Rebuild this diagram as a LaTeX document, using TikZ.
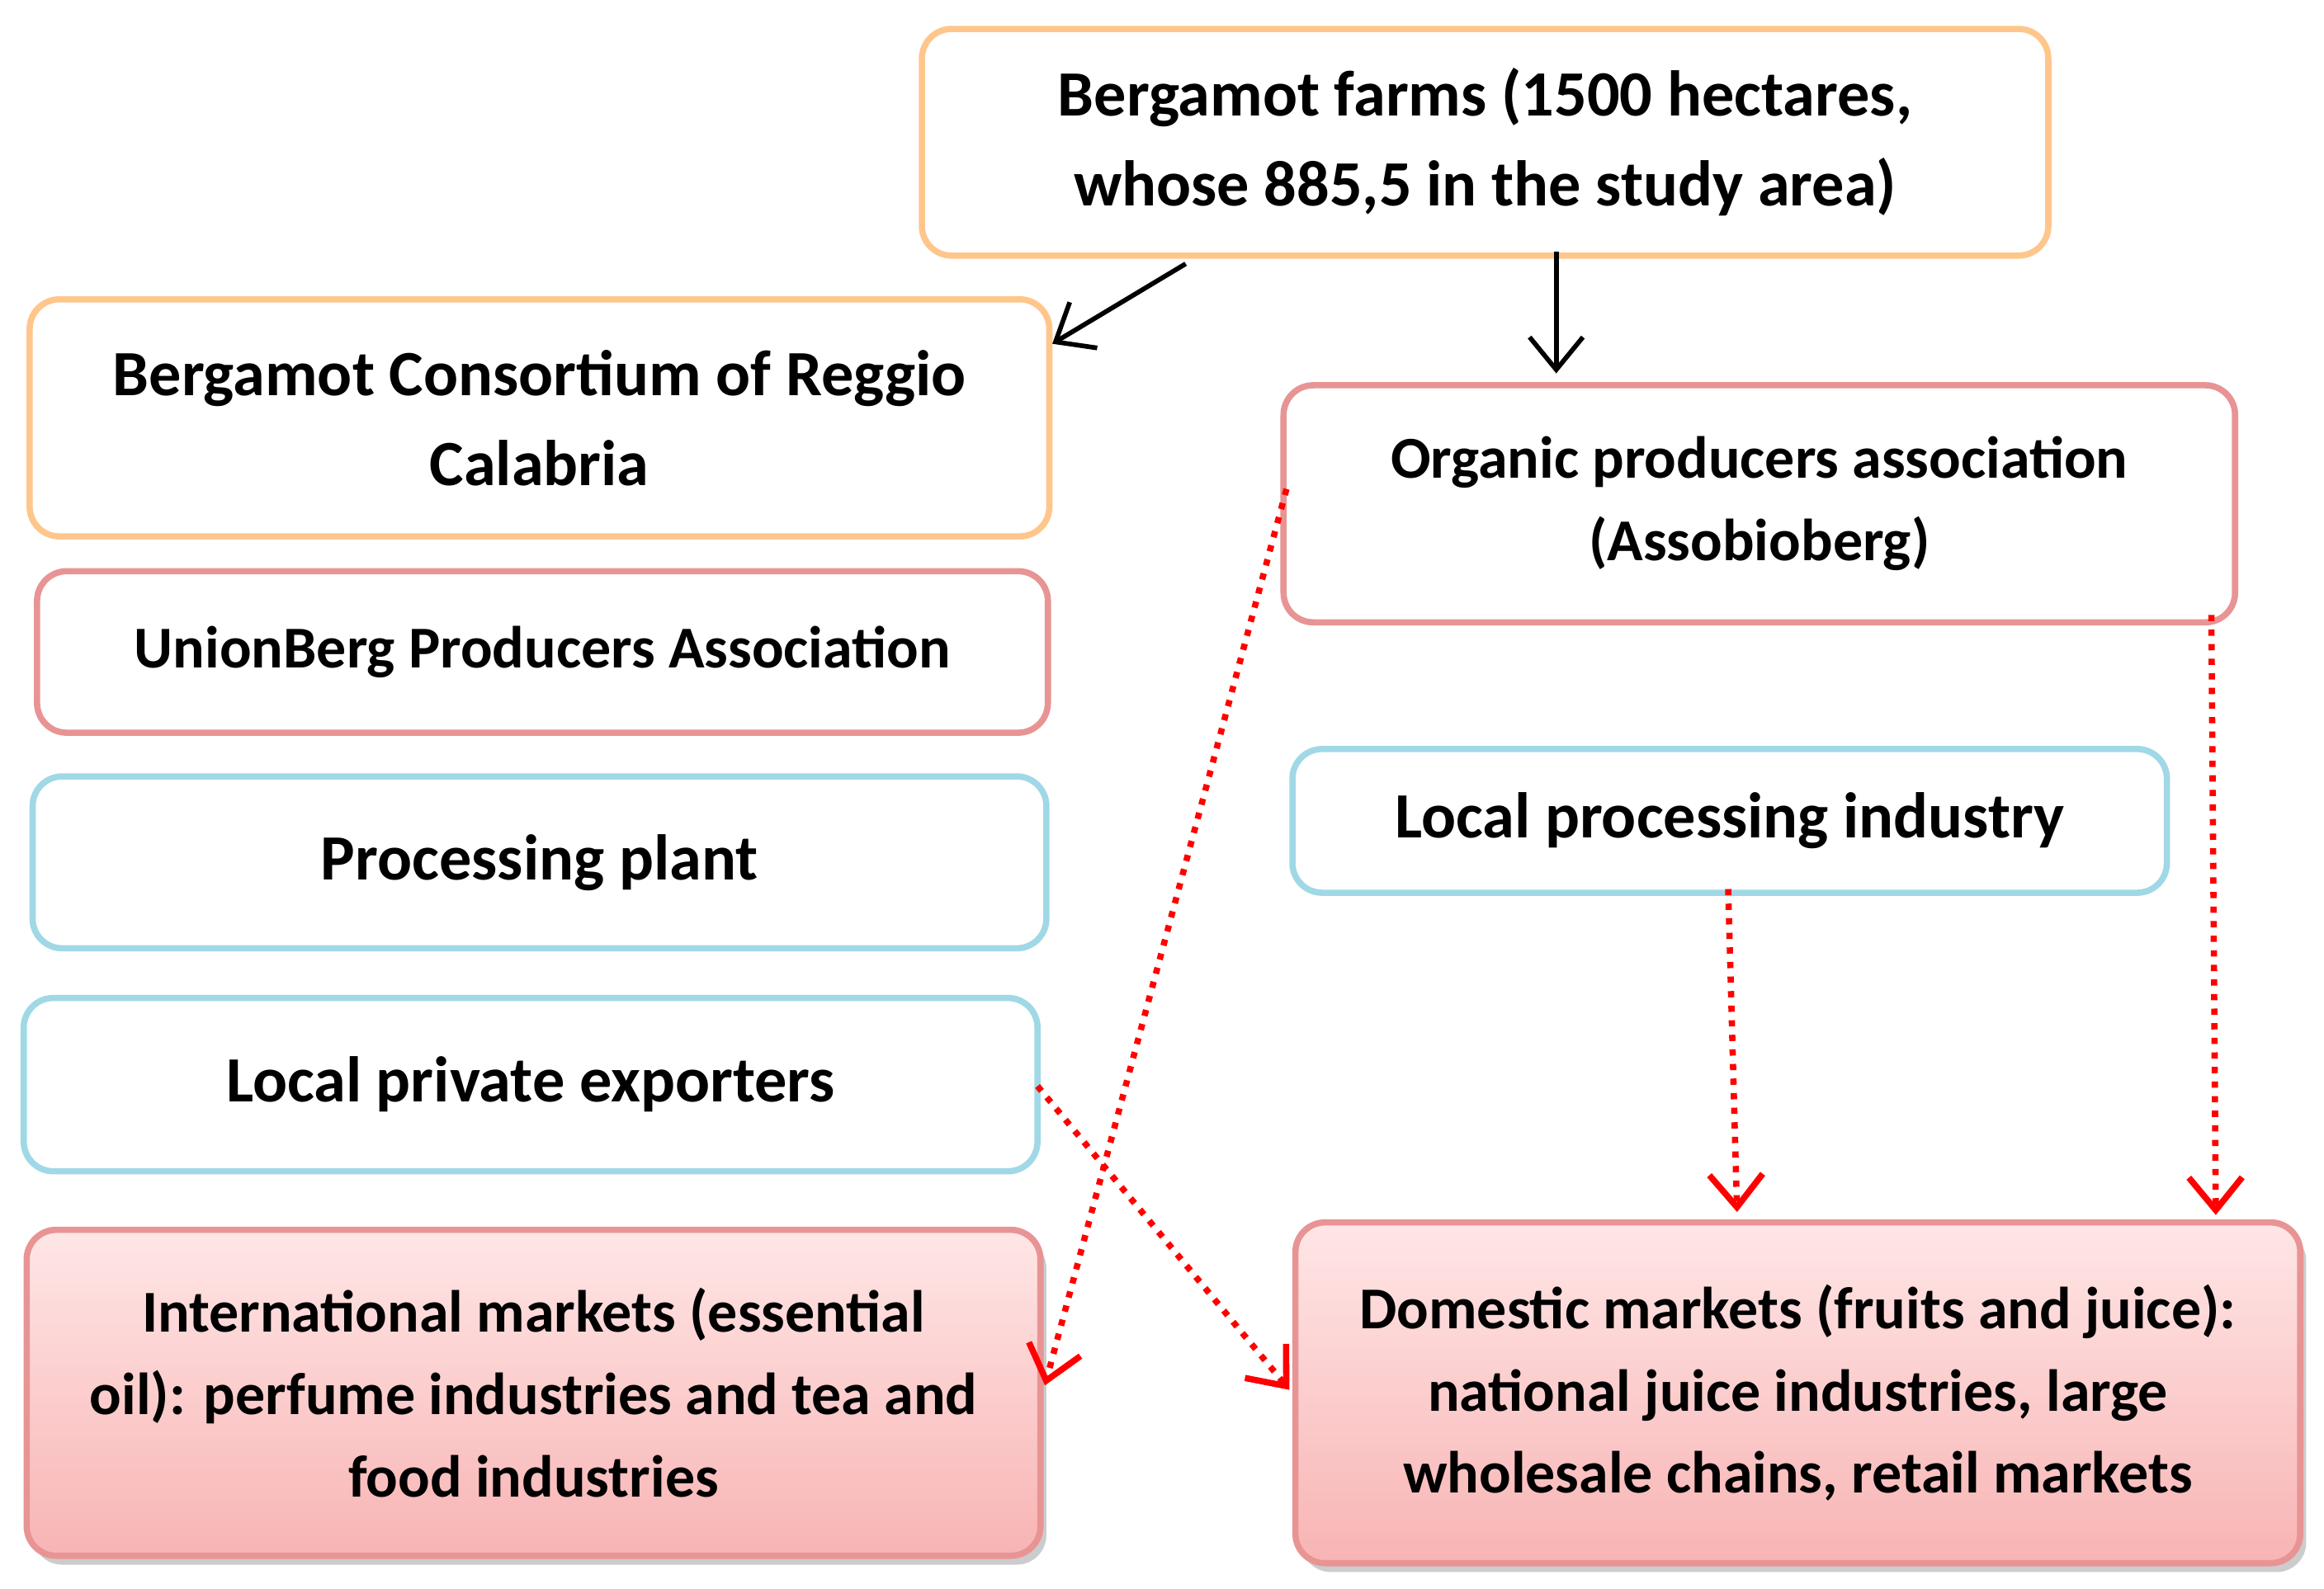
\documentclass[tikz,border=0pt]{standalone}
\usepackage{fontspec}
\setmainfont{Carlito}
\usetikzlibrary{arrows.meta,shadows}
\colorlet{colorOR}{orange!45}
\definecolor{colorPK}{HTML}{E89494}
\definecolor{colorBL}{HTML}{A0D8E6}
\definecolor{colorTOP}{HTML}{FFE6E6}
\definecolor{colorBOT}{HTML}{F8B4B4}
\tikzset{
   every path/.style={>={Straight Barb[length=2.2mm,width=3.6mm]}},
   box/.style={draw,rounded corners=2mm,line width=1.2pt,align=center,
      font=\fontsize{12.4}{17.3}\selectfont\bfseries,inner sep=0pt},
   small/.style={font=\fontsize{11.4}{15.8}\selectfont\bfseries},
   obox/.style={box,draw=colorOR},
   pbox/.style={box,draw=colorPK},
   bbox/.style={box,draw=colorBL},
   mbox/.style={box,small,draw=colorPK,top color=colorTOP,bottom color=colorBOT,
      drop shadow={shadow xshift=0.4mm,shadow yshift=-0.6mm,fill=black!40}},
   flow/.style={->,line width=0.9pt},
   sale/.style={->,red,line width=1.2pt,dash pattern=on 1.2pt off 1.6pt},
}
\begin{document}
\begin{tikzpicture}[x=0.1mm,y=-0.1mm]
   \useasboundingbox (0,0) rectangle (1568,1072);
   \node[obox,minimum width=76mm,minimum height=15.3mm] (farm) at (1002,96) {Bergamot farms (1500 hectares,\\whose 885,5 in the study area)};
   \node[obox,minimum width=68.8mm,minimum height=16mm] (cons) at (364,282) {Bergamot Consortium of Reggio\\Calabria};
   \node[pbox,small,minimum width=68.2mm,minimum height=10.9mm] (union) at (366,440) {UnionBerg Producers Association};
   \node[bbox,minimum width=68.4mm,minimum height=11.6mm] (plant) at (364,582) {Processing plant};
   \node[bbox,minimum width=68.4mm,minimum height=11.7mm] (expo) at (358,732) {Local private exporters};
   \node[mbox,minimum width=68.4mm,minimum height=22mm] (intl) at (360,940) {International markets (essential\\oil): perfume industries and tea and\\food industries};
   \node[pbox,small,minimum width=64.2mm,minimum height=16mm] (orga) at (1187,340) {Organic producers association\\(Assobioberg)};
   \node[bbox,minimum width=59mm,minimum height=9.7mm] (lpi) at (1167,554) {Local processing industry};
   \node[mbox,minimum width=67.8mm,minimum height=23mm] (dome) at (1213,940) {Domestic markets (fruits and juice):\\national juice industries, large\\wholesale chains, retail markets};
   \coordinate (fa) at (800,178);
   \coordinate (ca) at (710,232);
   \coordinate (fb) at (1050,170);
   \coordinate (ob) at (1050,252);
   \coordinate (ol) at (868,330);
   \coordinate (il) at (705,935);
   \coordinate (ex) at (700,733);
   \coordinate (dl) at (870,938);
   \coordinate (lb) at (1166,600);
   \coordinate (dt) at (1172,818);
   \coordinate (or) at (1492,415);
   \coordinate (dr) at (1495,820);
   \draw[flow] (fa) -- (ca);
   \draw[flow] (fb) -- (ob);
   \draw[sale] (ol) -- (il);
   \draw[sale] (ex) -- (dl);
   \draw[sale] (lb) -- (dt);
   \draw[sale] (or) -- (dr);
\end{tikzpicture}
\end{document}
